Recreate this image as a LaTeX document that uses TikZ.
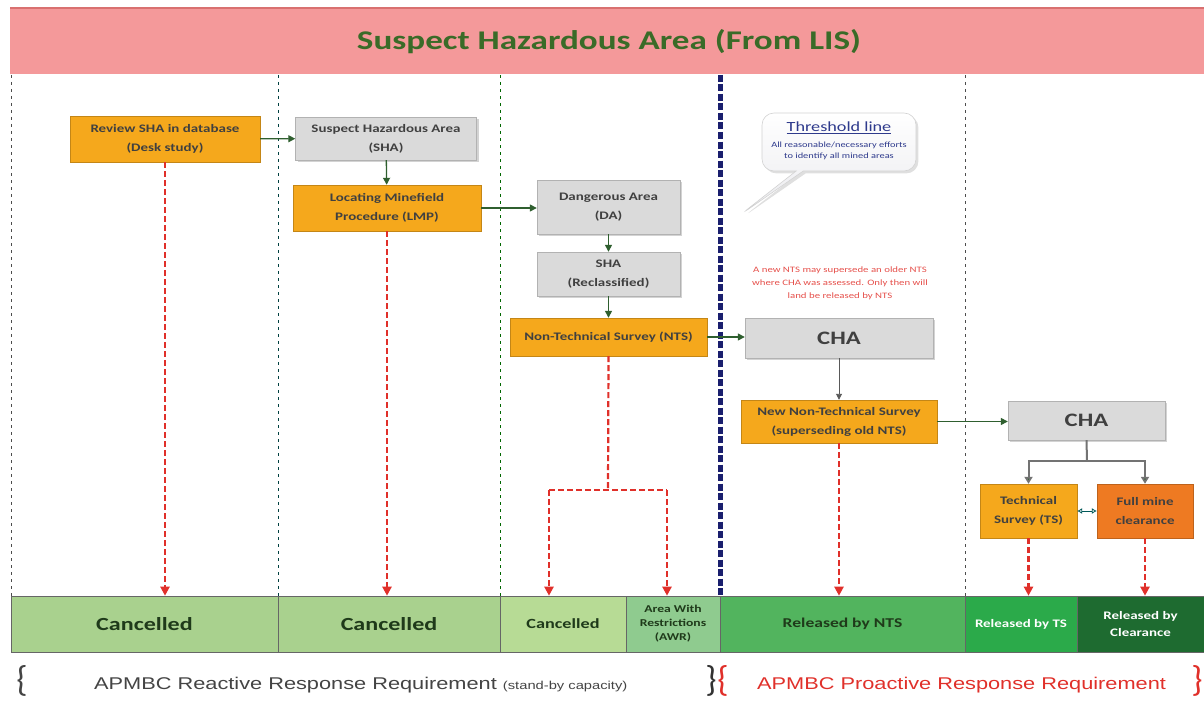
\documentclass[tikz,border=0pt]{standalone}
\usepackage{fontspec}
\setmainfont{Carlito}[FakeStretch=1.3]
\newfontfamily\arialf{Liberation Sans}[FakeStretch=1.28]
\newfontfamily\bracef{Carlito}
\usetikzlibrary{arrows.meta,shadows,shapes.callouts,calc}
\definecolor{hdr}{HTML}{F4999A}
\definecolor{hdrline}{HTML}{D97070}
\definecolor{ttl}{HTML}{3A6B28}
\definecolor{orng}{HTML}{F5A81C}
\definecolor{orngd}{HTML}{EE7A22}
\definecolor{grayb}{HTML}{DADADA}
\definecolor{grn}{HTML}{2F5F2F}
\definecolor{redd}{HTML}{E0302A}
\definecolor{navy}{HTML}{1A1F6E}
\definecolor{gA}{HTML}{A9D18E}
\definecolor{gB}{HTML}{B7DB95}
\definecolor{gC}{HTML}{8FCB8F}
\definecolor{gD}{HTML}{52B45E}
\definecolor{gE}{HTML}{2BAA4A}
\definecolor{gF}{HTML}{1E6B30}
\definecolor{txtg}{HTML}{1F3A1A}
\definecolor{gtxt}{HTML}{444444}
\definecolor{thr}{HTML}{2E3A8C}
\tikzset{
  x=1pt,y=-1pt,
  obox/.style={draw=orng!80!black,line width=0.4pt,fill=orng,align=center,font=\fontsize{11.5}{19}\selectfont\bfseries\color{black!75},inner sep=2pt},
  gbox/.style={draw=gray!60,line width=0.4pt,fill=grayb,align=center,font=\fontsize{11.5}{19}\selectfont\bfseries\color{black!75},inner sep=2pt,drop shadow={opacity=0.35,shadow xshift=2pt,shadow yshift=-2pt}},
  bigtxt/.style={font=\fontsize{19}{20}\selectfont\bfseries\color{black!75}},
  garr/.style={draw=grn,line width=1.3pt,-{Triangle[length=7pt,width=7pt]}},
  thinarr/.style={draw=black!65,line width=0.9pt,-{Triangle[length=6pt,width=6pt]}},
  gline/.style={draw=grn,line width=1.3pt},
  rarr/.style={draw=redd,line width=2.2pt,dash pattern=on 6pt off 3pt,-{Triangle[length=9pt,width=9pt]}},
  rline/.style={draw=redd,line width=2.2pt,dash pattern=on 6pt off 3pt},
  sep/.style={draw=black!70,line width=0.8pt,dash pattern=on 3pt off 4pt},
  seg/.style={draw=black!60,line width=0.6pt,minimum height=56pt,inner sep=0pt,align=center,font=\bfseries\color{txtg}},
  brc/.style={font=\bracef\fontsize{36}{36}\selectfont,inner sep=0pt},
}
\begin{document}
\begin{tikzpicture}
\useasboundingbox (0,0) rectangle (1204,706);
% header
\node[fill=hdr,minimum width=1194pt,minimum height=66pt,inner sep=0pt] (hdr) at (607,41) {};
\draw[hdrline,line width=1.2pt] (10,8) -- (1204,8);
\node[font=\fontsize{27}{30}\selectfont\bfseries\color{ttl}] (title) at (609,42) {Suspect Hazardous Area (From LIS)};
% separators
\coordinate (s0t) at (11,75); \coordinate (s0b) at (11,596);
\coordinate (s1t) at (278,75); \coordinate (s1b) at (278,596);
\coordinate (s2t) at (500,75); \coordinate (s2b) at (500,596);
\coordinate (s3t) at (720,75); \coordinate (s3b) at (720,596);
\coordinate (s4t) at (965,75); \coordinate (s4b) at (965,596);
\draw[sep] (s0t) -- (s0b);
\draw[sep,draw=teal!50!black] (s1t) -- (s1b);
\draw[sep,draw=green!40!black] (s2t) -- (s2b);
\draw[sep] (s4t) -- (s4b);
\draw[navy,line width=5pt,dash pattern=on 7pt off 2.5pt] (s3t) -- (s3b);
% boxes
\node[obox,minimum width=190pt,minimum height=46pt] (rev) at (165,139) {Review SHA in database\\(Desk study)};
\node[gbox,minimum width=181pt,minimum height=43pt] (sha) at (386,138.5) {Suspect Hazardous Area\\(SHA)};
\node[obox,minimum width=188pt,minimum height=46pt] (lmp) at (387,208) {Locating Minefield\\Procedure (LMP)};
\node[gbox,minimum width=143pt,minimum height=54pt] (da) at (608.5,207) {Dangerous Area\\(DA)};
\node[gbox,minimum width=143pt,minimum height=44pt] (shar) at (608.5,274) {SHA\\(Reclassified)};
\node[obox,minimum width=197pt,minimum height=38pt] (nts) at (608.5,337) {Non-Technical Survey (NTS)};
\node[gbox,minimum width=188pt,minimum height=40pt,bigtxt] (cha) at (839,338) {CHA};
\node[obox,minimum width=196pt,minimum height=43pt] (nnts) at (839,421.5) {New Non-Technical Survey\\(superseding old NTS)};
\node[gbox,minimum width=157pt,minimum height=39pt,bigtxt] (chb) at (1086.5,420.5) {CHA};
\node[obox,minimum width=97pt,minimum height=54pt] (ts) at (1028.5,511) {Technical\\Survey (TS)};
\node[obox,fill=orngd,draw=orngd!80!black,minimum width=96pt,minimum height=54pt] (fmc) at (1145,511) {Full mine\\clearance};
% green connectors
\draw[garr] (rev) -- (sha);
\draw[garr] (sha) -- (lmp);
\draw[garr] (lmp.east) -- (da.west|-lmp.east);
\draw[garr] (da) -- (shar);
\draw[garr] (shar) -- (nts);
\draw[garr] (nts.east) -- (cha.west|-nts.east);
\draw[thinarr] (cha) -- (nnts);
\draw[garr] (nnts.east) -- (chb.west|-nnts.east);
\coordinate (br) at (1087,461);
\draw[gline,draw=black!55,line width=2pt] (chb.south) -- (br);
\draw[garr,draw=black!55,line width=2pt,-{Triangle[length=7pt,width=8pt,fill=grn]}] (br) -| (ts.north);
\draw[garr,draw=black!55,line width=2pt,-{Triangle[length=7pt,width=8pt,fill=grn]}] (br) -| (fmc.north);
\draw[{Latex[open,length=5pt,width=6pt]}-{Latex[open,length=5pt,width=6pt]},draw=teal!70!black,line width=0.8pt] (ts.east) -- (fmc.west);
% bottom bar
\node[seg,fill=gA,minimum width=267pt,font=\fontsize{18.5}{20}\selectfont\bfseries\color{txtg}] (c1) at (144.5,624) {Cancelled};
\node[seg,fill=gA,minimum width=222pt,font=\fontsize{18.5}{20}\selectfont\bfseries\color{txtg}] (c2) at (389,624) {Cancelled};
\node[seg,fill=gB,minimum width=126pt,font=\fontsize{14}{16}\selectfont\bfseries\color{txtg}] (c3) at (563,624) {Cancelled};
\node[seg,fill=gC,minimum width=94pt,font=\fontsize{10.5}{14}\selectfont\bfseries\color{txtg}] (awr) at (673,624) {Area With\\Restrictions\\(AWR)};
\node[seg,fill=gD,minimum width=245pt,font=\fontsize{13.5}{15}\selectfont\bfseries\color{txtg}] (rn) at (842.5,624) {Released by NTS};
\node[seg,fill=gE,minimum width=112pt,font=\fontsize{11.5}{13}\selectfont\bfseries\color{white}] (rt) at (1021,624) {Released by TS};
\node[seg,fill=gF,minimum width=127pt,font=\fontsize{11.5}{17}\selectfont\bfseries\color{white}] (rc) at (1140.5,624) {Released by\\Clearance};
% red dashed connectors
\draw[rarr] (rev.south) -- (rev.south|-c1.north);
\draw[rarr] (lmp.south) -- (lmp.south|-c2.north);
\coordinate (nb) at (608,490);
\coordinate (nl) at (549,490);
\coordinate (nr) at (667,490);
\draw[rline] (nts.south) -- (nb);
\draw[rline] (nl) -- (nr);
\draw[rarr] (nl) -- (nl|-c3.north);
\draw[rarr] (nr) -- (nr|-awr.north);
\draw[rarr] (nnts.south) -- (nnts.south|-rn.north);
\draw[rarr] (ts.south) -- (ts.south|-rt.north);
\draw[rarr] (fmc.south) -- (fmc.south|-rc.north);
% callout
\node[rectangle callout,rounded corners=12pt,draw=gray!35,line width=0.6pt,top color=white,bottom color=blue!10!gray!15,minimum width=154pt,minimum height=58pt,align=center,callout absolute pointer={(740,215)},drop shadow={opacity=0.25}] (thr) at (839,142) {};
\node[font=\fontsize{14}{16}\selectfont\color{thr},inner sep=0pt] (thrt) at (839,128) {\underline{Threshold line}};
\node[font=\fontsize{8}{10.5}\selectfont\color{thr},align=center,inner sep=0pt] (thrs) at (839,151) {All reasonable/necessary efforts\\to identify all mined areas};
% red note
\node[font=\fontsize{8.3}{13}\selectfont\color{redd!85},align=center] (note) at (840,283) {A new NTS may supersede an older NTS\\where CHA was assessed. Only then will\\land be released by NTS};
% bottom texts
\node[brc,text=gtxt] (lb) at (22,681) {\{};
\node[font=\arialf\fontsize{17}{20}\selectfont\color{gtxt},anchor=west,inner sep=0pt] (rr) at (94,685) {APMBC Reactive Response Requirement {\fontsize{11.5}{12}\selectfont (stand-by capacity)}};
\node[brc,text=black!80] (rb1) at (711,681) {\}};
\node[brc,text=redd] (lb2) at (723,681) {\{};
\node[font=\arialf\fontsize{17}{20}\selectfont\color{redd},anchor=west,inner sep=0pt] (pr) at (757,685) {APMBC Proactive Response Requirement};
\node[brc,text=redd] (rb2) at (1197,681) {\}};
\end{tikzpicture}
\end{document}
